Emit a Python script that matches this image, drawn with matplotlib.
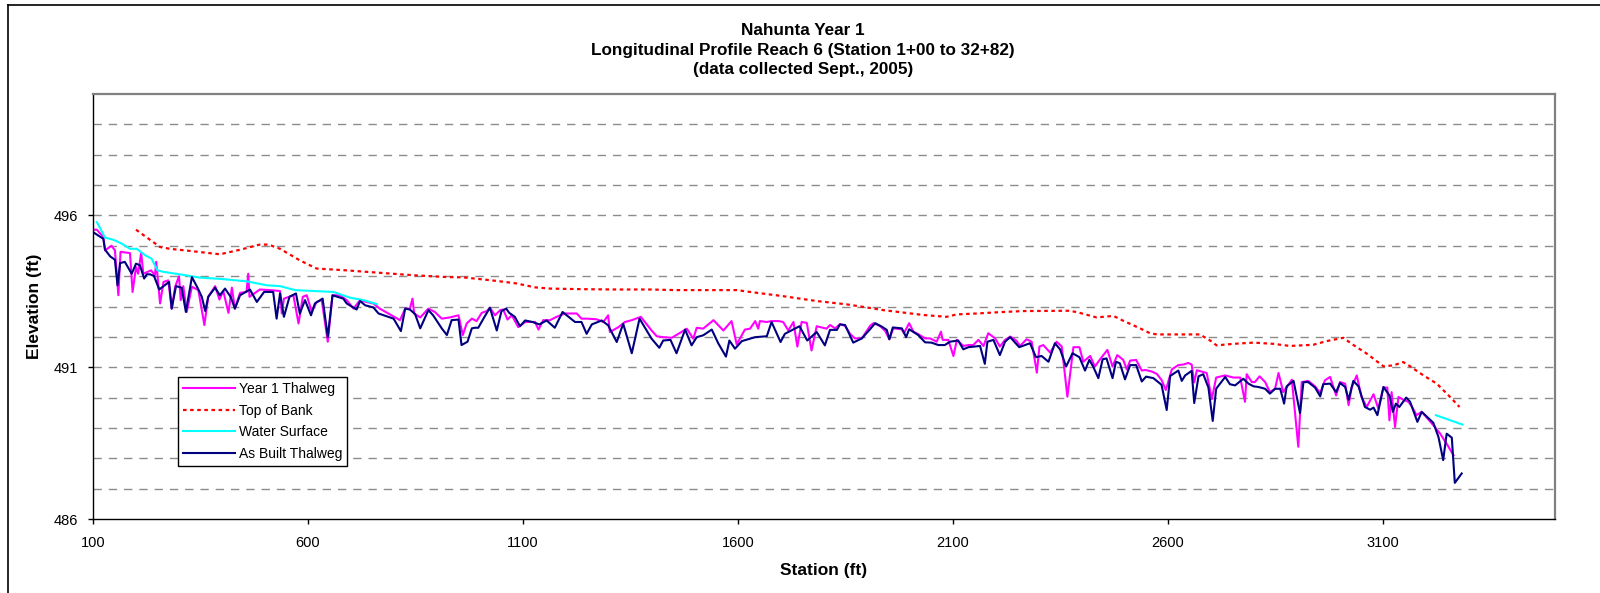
import numpy as np
import matplotlib
matplotlib.use("Agg")
import matplotlib.pyplot as plt
from matplotlib.lines import Line2D

plt.rcParams['font.family'] = ['Liberation Sans', 'DejaVu Sans']

# (station ft, elevation ft)
year1_thalweg = [
    (100, 495.53), (109, 495.53), (124, 495.29), (128, 494.85), (143, 495.0), (151, 494.85), (159, 493.37),
    (164, 494.80), (186, 494.76), (192, 493.48), (200, 494.30), (205, 494.08), (212, 494.77), (217, 494.08),
    (235, 494.19), (244, 494.03), (247, 494.47), (256, 493.10), (264, 493.81), (275, 493.86), (283, 492.93),
    (291, 493.65), (300, 494.0), (304, 493.21), (310, 493.67), (318, 492.82), (330, 493.65), (345, 493.54),
    (359, 492.39), (368, 493.32), (384, 493.67), (394, 493.23), (403, 493.51), (415, 492.79), (423, 493.62),
    (430, 492.93), (442, 493.45), (457, 493.48), (461, 494.08), (464, 493.32), (488, 493.56), (512, 493.54),
    (535, 493.51), (539, 492.77), (544, 493.26), (566, 493.37), (578, 492.44), (588, 493.32), (597, 493.37),
    (609, 492.82), (620, 493.15), (632, 493.21), (646, 491.84), (657, 493.37), (674, 493.37), (690, 493.21),
    (706, 492.93), (721, 493.21), (736, 493.15), (752, 493.10), (767, 492.93), (814, 492.55), (826, 492.93),
    (837, 492.93), (843, 493.26), (847, 492.77), (861, 492.64), (880, 492.93), (895, 492.82), (911, 492.60),
    (930, 492.64), (950, 492.71), (960, 492.06), (969, 492.44), (981, 492.60), (992, 492.52), (1004, 492.79),
    (1016, 492.85), (1023, 492.96), (1035, 492.71), (1047, 492.88), (1054, 492.90), (1064, 492.57),
    (1074, 492.71), (1089, 492.32), (1105, 492.49), (1128, 492.49), (1136, 492.24), (1147, 492.55),
    (1163, 492.55), (1178, 492.66), (1198, 492.77), (1225, 492.77), (1236, 492.60), (1248, 492.60),
    (1271, 492.58), (1287, 492.49), (1298, 492.71), (1302, 492.16), (1322, 492.32), (1337, 492.49),
    (1353, 492.55), (1374, 492.66), (1399, 492.21), (1411, 492.02), (1426, 491.99), (1446, 491.97),
    (1465, 492.13), (1481, 492.27), (1496, 491.94), (1504, 492.30), (1519, 492.27), (1543, 492.55),
    (1566, 492.21), (1585, 492.52), (1597, 491.75), (1616, 492.24), (1628, 492.27), (1640, 492.52),
    (1647, 492.27), (1651, 492.52), (1667, 492.49), (1678, 492.52), (1694, 492.52), (1705, 492.49),
    (1717, 492.21), (1729, 492.49), (1738, 491.68), (1748, 492.49), (1760, 492.46), (1771, 491.55),
    (1783, 492.35), (1806, 492.27), (1814, 492.39), (1826, 492.28), (1837, 492.42), (1849, 492.36),
    (1861, 492.09), (1872, 491.95), (1888, 491.95), (1907, 492.36), (1915, 492.45), (1930, 492.36),
    (1942, 492.20), (1952, 491.92), (1961, 492.28), (1981, 492.25), (1986, 492.12), (1998, 492.45),
    (2008, 492.17), (2019, 492.09), (2035, 491.95), (2047, 491.95), (2062, 491.84), (2072, 492.17),
    (2076, 491.90), (2089, 491.90), (2101, 491.37), (2109, 491.90), (2124, 491.70), (2136, 491.73),
    (2147, 491.73), (2159, 491.90), (2171, 491.70), (2182, 492.12), (2198, 491.95), (2209, 491.68),
    (2221, 491.90), (2233, 492.01), (2247, 491.88), (2256, 491.70), (2271, 491.92), (2283, 491.84),
    (2295, 490.82), (2301, 491.68), (2310, 491.73), (2326, 491.48), (2341, 491.84), (2353, 491.68),
    (2366, 490.03), (2380, 491.66), (2394, 491.66), (2403, 491.18), (2419, 491.37), (2430, 491.02),
    (2442, 491.26), (2459, 491.57), (2471, 491.02), (2482, 491.40), (2496, 491.24), (2504, 490.93),
    (2512, 491.22), (2526, 491.24), (2539, 490.89), (2547, 490.91), (2562, 490.86), (2574, 490.78),
    (2585, 490.58), (2595, 490.25), (2609, 490.93), (2624, 491.07), (2636, 491.09), (2647, 491.14),
    (2655, 491.09), (2661, 490.50), (2667, 490.90), (2690, 490.81), (2702, 489.95), (2712, 490.66),
    (2733, 490.73), (2752, 490.66), (2768, 490.66), (2779, 489.86), (2783, 490.77), (2795, 490.51),
    (2802, 490.51), (2813, 490.70), (2826, 490.51), (2837, 490.18), (2849, 490.29), (2857, 490.81),
    (2868, 490.18), (2888, 490.59), (2903, 488.38), (2911, 490.51), (2926, 490.55), (2942, 490.37),
    (2954, 490.15), (2965, 490.57), (2977, 490.68), (2991, 490.07), (3000, 490.51), (3012, 490.46),
    (3020, 489.75), (3027, 490.33), (3039, 490.73), (3050, 490.02), (3062, 489.69), (3078, 490.11),
    (3089, 489.64), (3101, 490.33), (3110, 490.33), (3115, 489.25), (3120, 490.18), (3128, 489.03),
    (3136, 490.02), (3147, 489.93), (3159, 489.86), (3167, 489.71), (3178, 489.42), (3190, 489.53),
    (3217, 489.09), (3233, 488.81), (3248, 488.48), (3264, 488.10),
]

top_of_bank = [
    (200, 495.53), (256, 494.96), (279, 494.90), (326, 494.83), (395, 494.72), (442, 494.87), (488, 495.04),
    (508, 495.04), (535, 494.90), (581, 494.52), (620, 494.25), (690, 494.19), (767, 494.11), (845, 494.03),
    (923, 493.97), (961, 493.96), (1008, 493.89), (1046, 493.83), (1085, 493.76), (1128, 493.63),
    (1163, 493.59), (1240, 493.57), (1318, 493.56), (1395, 493.56), (1457, 493.54), (1597, 493.54),
    (1628, 493.48), (1705, 493.34), (1783, 493.18), (1853, 493.07), (1899, 492.97), (1938, 492.88),
    (1985, 492.80), (2031, 492.72), (2085, 492.66), (2109, 492.74), (2155, 492.77), (2217, 492.82),
    (2264, 492.85), (2372, 492.86), (2392, 492.80), (2434, 492.64), (2473, 492.69), (2496, 492.53),
    (2535, 492.28), (2558, 492.12), (2574, 492.08), (2674, 492.08), (2698, 491.88), (2713, 491.72),
    (2752, 491.77), (2799, 491.81), (2845, 491.77), (2884, 491.70), (2938, 491.74), (2969, 491.86),
    (3008, 491.97), (3027, 491.77), (3062, 491.45), (3101, 491.03), (3124, 491.06), (3147, 491.17),
    (3163, 491.03), (3194, 490.73), (3225, 490.46), (3256, 490.02), (3278, 489.69),
]

# nan row = no survey of the water surface between the two stretches
water_surface = [
    (109, 495.78), (128, 495.27), (147, 495.20), (167, 495.07), (186, 494.90), (202, 494.90), (221, 494.69),
    (236, 494.58), (250, 494.19), (264, 494.14), (302, 494.06), (349, 493.95), (395, 493.91), (457, 493.83),
    (504, 493.70), (535, 493.67), (570, 493.54), (612, 493.51), (659, 493.48), (698, 493.29), (729, 493.21),
    (760, 493.08), (np.nan, np.nan), (3223, 489.42), (3285, 489.11),
]

as_built_thalweg = [
    (100, 495.45), (124, 495.23), (128, 494.87), (140, 494.65), (151, 494.54), (157, 493.70), (163, 494.43),
    (174, 494.47), (190, 494.08), (200, 494.41), (209, 494.36), (219, 493.92), (225, 494.06), (233, 494.06),
    (242, 494.0), (254, 493.56), (264, 493.67), (277, 493.81), (283, 492.93), (293, 493.67), (306, 493.62),
    (316, 492.82), (330, 493.97), (343, 493.62), (353, 493.32), (361, 492.85), (368, 493.32), (384, 493.62),
    (395, 493.37), (407, 493.59), (420, 493.32), (430, 492.93), (442, 493.37), (465, 493.56), (481, 493.15),
    (498, 493.48), (519, 493.48), (527, 492.60), (535, 493.43), (544, 492.66), (557, 493.32), (572, 493.43),
    (581, 492.77), (593, 493.21), (607, 492.71), (616, 493.10), (634, 493.26), (646, 492.0), (657, 493.37),
    (682, 493.26), (690, 493.10), (713, 492.90), (721, 493.18), (733, 493.04), (752, 492.97), (764, 492.77),
    (799, 492.60), (816, 492.19), (826, 492.93), (837, 492.90), (849, 492.75), (861, 492.28), (880, 492.88),
    (891, 492.71), (911, 492.28), (923, 492.06), (934, 492.55), (950, 492.57), (957, 491.73), (971, 491.84),
    (981, 492.28), (988, 492.30), (996, 492.30), (1008, 492.60), (1023, 492.96), (1039, 492.21),
    (1050, 492.85), (1061, 492.93), (1068, 492.79), (1081, 492.66), (1093, 492.35), (1105, 492.54),
    (1122, 492.49), (1138, 492.41), (1155, 492.54), (1174, 492.30), (1192, 492.82), (1221, 492.49),
    (1236, 492.49), (1248, 492.10), (1260, 492.41), (1283, 492.54), (1298, 492.38), (1318, 491.83),
    (1333, 492.43), (1353, 491.46), (1371, 492.60), (1399, 491.94), (1417, 491.64), (1426, 491.88),
    (1443, 491.90), (1457, 491.46), (1477, 492.24), (1492, 491.72), (1504, 491.99), (1519, 492.05),
    (1539, 492.24), (1554, 491.79), (1572, 491.35), (1580, 491.88), (1593, 491.61), (1609, 491.86),
    (1640, 491.99), (1667, 492.02), (1678, 492.49), (1699, 491.83), (1709, 492.10), (1743, 492.35),
    (1761, 491.88), (1783, 492.16), (1802, 491.72), (1814, 492.23), (1830, 492.23), (1837, 492.41),
    (1849, 492.39), (1868, 491.81), (1888, 491.95), (1907, 492.25), (1919, 492.45), (1934, 492.34),
    (1946, 492.23), (1952, 491.92), (1960, 492.31), (1981, 492.28), (1991, 491.99), (1998, 492.25),
    (2019, 492.06), (2035, 491.82), (2050, 491.81), (2066, 491.73), (2081, 491.73), (2093, 491.84),
    (2112, 491.88), (2124, 491.59), (2136, 491.66), (2163, 491.70), (2174, 491.11), (2180, 491.84),
    (2194, 491.90), (2209, 491.40), (2221, 491.84), (2233, 491.99), (2254, 491.66), (2279, 491.79),
    (2293, 491.33), (2306, 491.37), (2322, 491.18), (2337, 491.79), (2349, 491.59), (2363, 491.02),
    (2378, 491.46), (2394, 491.33), (2407, 490.89), (2417, 491.24), (2426, 491.02), (2438, 490.64),
    (2448, 491.26), (2457, 491.29), (2471, 490.64), (2479, 491.18), (2488, 491.13), (2500, 490.60),
    (2512, 491.07), (2526, 491.07), (2539, 490.53), (2549, 490.69), (2566, 490.64), (2585, 490.42),
    (2597, 489.59), (2605, 490.71), (2624, 490.89), (2632, 490.55), (2640, 490.73), (2655, 490.88),
    (2661, 489.82), (2671, 490.70), (2682, 490.77), (2694, 490.33), (2704, 489.23), (2712, 490.29),
    (2733, 490.68), (2744, 490.44), (2756, 490.40), (2775, 490.62), (2787, 490.46), (2799, 490.37),
    (2810, 490.35), (2826, 490.29), (2837, 490.13), (2849, 490.29), (2861, 490.29), (2870, 489.80),
    (2876, 490.37), (2892, 490.55), (2907, 489.49), (2915, 490.51), (2926, 490.51), (2942, 490.33),
    (2954, 490.04), (2961, 490.44), (2977, 490.46), (2991, 490.18), (3000, 490.48), (3012, 490.35),
    (3020, 489.93), (3031, 490.55), (3043, 490.37), (3058, 489.69), (3070, 489.60), (3078, 489.67),
    (3087, 489.42), (3101, 490.35), (3115, 490.07), (3123, 489.53), (3130, 489.80), (3138, 489.69),
    (3154, 490.0), (3163, 489.86), (3180, 489.20), (3190, 489.53), (3217, 489.17), (3229, 488.70),
    (3240, 487.94), (3248, 488.81), (3260, 488.68), (3267, 487.19), (3283, 487.50),
]

x_ticks = [100, 600, 1100, 1600, 2100, 2600, 3100]
y_ticks = [486, 491, 496]
y_grid = list(range(487, 500))


def split(pairs):
    arr = np.array(pairs, dtype=float)
    return arr[:, 0], arr[:, 1]


fig = plt.figure(figsize=(16, 5.93), dpi=100)
ax = fig.add_axes([93 / 1600, 74 / 593, 1462 / 1600, 425 / 593])

for y in y_grid:
    ax.axhline(y, color='#8c8c8c', lw=1.0, dashes=(6, 5), zorder=0)

x, y = split(year1_thalweg)
ax.plot(x, y, color='#FF00FF', lw=1.5, label='Year 1 Thalweg')
x, y = split(top_of_bank)
ax.plot(x, y, color='#FF0000', lw=1.6, dashes=(1.6, 1.6), label='Top of Bank')
x, y = split(water_surface)
ax.plot(x, y, color='#00FFFF', lw=1.5, label='Water Surface')
x, y = split(as_built_thalweg)
ax.plot(x, y, color='#000080', lw=1.5, label='As Built Thalweg')

ax.set_xlim(100, 3500)
ax.set_ylim(486, 500)
ax.set_xticks(x_ticks)
ax.set_yticks(y_ticks)
ax.tick_params(direction='out', length=3.5, width=1, labelsize=10.5, colors='black')
ax.tick_params(axis='x', pad=9)
ax.tick_params(axis='y', pad=7)

for side in ['left', 'bottom']:
    ax.spines[side].set_color('black')
    ax.spines[side].set_linewidth(1.0)
for side in ['top', 'right']:
    ax.spines[side].set_color('#808080')
    ax.spines[side].set_linewidth(1.6)

ax.set_xlabel('Station (ft)', fontsize=12.5, fontweight='bold', labelpad=9)
ax.set_ylabel('Elevation (ft)', fontsize=12.5, fontweight='bold', labelpad=9)

fig.text(0.502, 1 - 50 / 593,
         'Nahunta Year 1\nLongitudinal Profile Reach 6 (Station 1+00 to 32+82)\n(data collected Sept., 2005)',
         ha='center', va='center', fontsize=12.3, fontweight='bold', linespacing=1.4)

leg = ax.legend(loc='upper left', bbox_to_anchor=((178 - 93) / 1462, (519 - 377) / 425),
                fontsize=10, frameon=True, fancybox=False, edgecolor='black', framealpha=1,
                handlelength=3.75, handletextpad=0.3, labelspacing=0.55, borderpad=0.35,
                borderaxespad=0)
leg.get_frame().set_linewidth(1.0)

# outer chart-area border (top and left edges fall inside the image)
fig.add_artist(Line2D([8 / 1600, 8 / 1600], [0, 588 / 593], transform=fig.transFigure, color='black', lw=1.2))
fig.add_artist(Line2D([8 / 1600, 1], [588 / 593, 588 / 593], transform=fig.transFigure, color='black', lw=1.2))

fig.savefig('out.png', dpi=100)
